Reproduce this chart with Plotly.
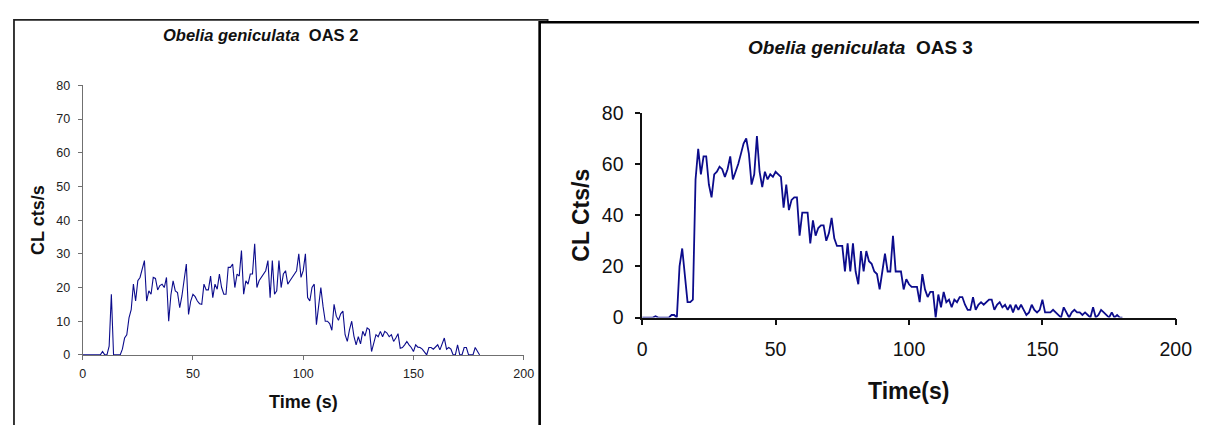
import plotly.graph_objects as go

W, H = 1207, 425

# ---------------- data ----------------
time_oas2 = list(range(0, 181))
cl_oas2 = [0, 0, 0, 0, 0, 0, 0, 0, 0, 1, 0, 0, 2.6, 18, 0, 0, 0, 0, 1.7, 5,
           6, 11, 13.4, 21, 16, 22, 23, 26, 28, 16, 19, 18, 23, 22.7, 19.3, 20.6, 21, 20, 23, 10,
           17.8, 22, 19, 18.5, 14, 17.5, 22, 27, 12, 16, 18, 17.3, 16, 15.2, 15, 21, 19.3, 19.3, 23.4, 17,
           21, 19.5, 24, 20, 18, 18, 26, 26, 27, 20, 24, 23.4, 31, 18, 22, 21, 24, 24, 33, 20,
           22, 23, 24, 25, 28, 17, 28, 18, 19, 28, 20, 24, 25, 21, 22, 23, 24, 25, 30, 23,
           25, 30, 17, 16, 20, 21, 9, 15, 20, 14.4, 10, 10, 9.3, 7.3, 15, 11.5, 10.3, 12.2, 13, 6,
           4, 7.5, 10, 5.6, 3, 5.4, 3.3, 7, 5.6, 8, 7.5, 1, 3.6, 6, 5.4, 7, 5.4, 7, 6.5, 5.4,
           6, 4, 5, 6.3, 2, 2.2, 3, 4, 3, 2.2, 1, 3, 2.3, 2.2, 1.7, 1, 0, 2.2, 2.2, 1.7,
           2.5, 3, 1.5, 3, 5, 1.7, 2.2, 1.7, 0, 0, 3, 0, 0, 2.2, 2.2, 0, 0, 0, 2.2, 1.2,
           0]

time_oas3 = list(range(0, 181))
cl_oas3 = [0, 0, 0, 0, 0, 0.5, 0, 0, 0, 0, 0, 1, 1, 0, 20, 27, 17, 6, 6, 7,
           54, 66, 56, 63, 63, 52, 47, 56, 57, 59, 58, 55, 58, 63, 54, 57, 60, 64, 68, 70,
           64, 52, 56, 71, 57, 51, 57, 54, 56, 55, 57, 56, 55, 43, 52, 42, 46, 47, 47, 32,
           41, 41, 41, 29, 38, 32, 35, 36, 36, 30, 33, 39, 31, 28, 28, 28, 18, 29, 18, 29,
           18, 13, 26, 18, 26, 22, 21, 18, 17, 11, 18, 25, 18, 18, 32, 18, 18, 18, 11, 15,
           13, 12, 12, 12, 6, 17, 11, 8, 10, 10, 0, 9, 4, 10, 6, 7, 4, 7, 6, 8,
           8, 5, 3, 3, 8, 3, 5, 6, 5, 6, 7, 7, 3, 5, 6, 4, 5, 3, 5, 2,
           5, 3, 5, 3, 1, 2, 5, 3, 2, 3, 7, 2, 2, 2, 3, 2, 1, 0, 4, 2,
           0, 2, 3, 2, 2, 1, 2, 1, 0, 4, 0, 1, 3, 2, 1, 0, 2, 0, 1, 0,
           0]

x_ticks = [0, 50, 100, 150, 200]
y_ticks_left = [0, 10, 20, 30, 40, 50, 60, 70, 80]
y_ticks_right = [0, 20, 40, 60, 80]

title_left = "<b><i>Obelia geniculata</i>\u00a0 OAS 2</b>"
title_right = "<b><i>Obelia geniculata</i>\u00a0 OAS 3</b>"
ytitle_left = "<b>CL cts/s</b>"
ytitle_right = "<b>CL Cts/s</b>"
xtitle_left = "<b>Time (s)</b>"
xtitle_right = "<b>Time(s)</b>"

FONT = "Liberation Sans, Arial, sans-serif"
LINE = "#0c0c8c"

# the page is displayed with a small offset/scale; map target screen pixels to figure pixels
OX, SX, OY, SY = 11.0, 0.987, 15.5, 0.964


def fx(X):
    return ((X - OX) / SX) / W


def fy(Y):
    return 1 - ((Y - OY) / SY) / H


fig = go.Figure()
fig.add_trace(go.Scatter(x=time_oas2, y=cl_oas2, mode="lines",
                         line=dict(color=LINE, width=1.1), xaxis="x", yaxis="y",
                         showlegend=False, hoverinfo="skip"))
fig.add_trace(go.Scatter(x=time_oas3, y=cl_oas3, mode="lines",
                         line=dict(color=LINE, width=1.8), xaxis="x2", yaxis="y2",
                         showlegend=False, hoverinfo="skip"))

# target screen geometry (pixels)
L_x0, L_x1, L_y0, L_y1 = 81, 524, 357, 83
R_x0, R_x1, R_y0, R_y1 = 643, 1179, 319, 111

ax_common = dict(showgrid=False, zeroline=False, showline=True, ticks="outside",
                 fixedrange=True)

fig.update_layout(
    width=W, height=H,
    margin=dict(l=0, r=0, t=0, b=0),
    paper_bgcolor="white", plot_bgcolor="rgba(0,0,0,0)",
    font=dict(family=FONT, color="#111"),
    xaxis=dict(domain=[fx(L_x0), fx(L_x1)], range=[0, 200], tickvals=x_ticks,
               anchor="y", linecolor="#707070", linewidth=1, tickcolor="#707070",
               ticklen=4, tickwidth=1, tickfont=dict(size=12.5, color="#222"),
               ticklabelstandoff=3, **ax_common),
    yaxis=dict(domain=[fy(L_y0), fy(L_y1)], range=[0, 80], tickvals=y_ticks_left,
               anchor="x", linecolor="#707070", linewidth=1, tickcolor="#707070",
               ticklen=4, tickwidth=1, tickfont=dict(size=12.5, color="#222"),
               ticklabelstandoff=5, **ax_common),
    xaxis2=dict(domain=[fx(R_x0), fx(R_x1)], range=[0, 200], tickvals=x_ticks,
                anchor="y2", linecolor="#111", linewidth=1.5, tickcolor="#111",
                ticklen=6, tickwidth=1.5, tickfont=dict(size=19.5, color="#111"),
                ticklabelstandoff=7, **ax_common),
    yaxis2=dict(domain=[fy(R_y0), fy(R_y1)], range=[0, 80], tickvals=y_ticks_right,
                anchor="x2", linecolor="#111", linewidth=1.5, tickcolor="#111",
                ticklen=5, tickwidth=1.5, tickfont=dict(size=19.5, color="#111"),
                ticklabelstandoff=8, **ax_common),
)

# chart boxes (left box partly hidden by the right one)
fig.add_shape(type="rect", xref="paper", yref="paper",
              x0=1 / W, x1=fx(548), y0=-0.1, y1=1 - 1 / H,
              line=dict(color="#222", width=1.8), fillcolor="white", layer="below")
fig.add_shape(type="rect", xref="paper", yref="paper",
              x0=fx(540), x1=1.1, y0=-0.1, y1=1 - 3.5 / H,
              line=dict(color="#000", width=2.6), fillcolor="white", layer="below")

ann = [
    dict(text=title_left, X=260, Y=32, size=16.5, angle=0),
    dict(text=title_right, X=862, Y=44, size=19, angle=0),
    dict(text=ytitle_left, X=36, Y=(L_y0 + L_y1) / 2, size=18, angle=-90),
    dict(text=ytitle_right, X=582, Y=(R_y0 + R_y1) / 2, size=23, angle=-90),
    dict(text=xtitle_left, X=(L_x0 + L_x1) / 2, Y=405, size=18, angle=0),
    dict(text=xtitle_right, X=(R_x0 + R_x1) / 2, Y=394, size=23, angle=0),
]
for a in ann:
    fig.add_annotation(text=a["text"], x=fx(a["X"]), y=fy(a["Y"]), xref="paper", yref="paper",
                       showarrow=False, textangle=a["angle"], xanchor="center",
                       yanchor="middle", font=dict(family=FONT, size=a["size"], color="#111"))

fig.write_html("out.html")
